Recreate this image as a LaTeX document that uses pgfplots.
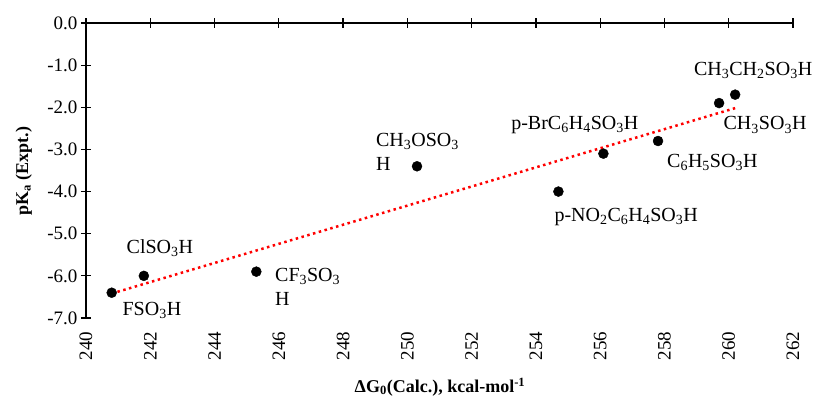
\documentclass[border=0pt]{standalone}
\usepackage{fontspec}
\setmainfont{Liberation Serif}
\usepackage{pgfplots}
\pgfplotsset{compat=1.18}
\newcommand{\s}[1]{\textsubscript{#1}}
\tikzset{lbl/.style={font=\fontsize{20}{24}\selectfont, inner sep=0pt}}
\begin{document}
\begin{tikzpicture}
\begin{axis}[
  scale only axis, width=707pt, height=295pt,
  xmin=240, xmax=262, ymin=-7, ymax=0,
  clip=false,
  xtick={240,242,...,262}, ytick={-7,-6,...,0},
  xticklabels={240,242,244,246,248,250,252,254,256,258,260,262},
  yticklabels={-7.0,-6.0,-5.0,-4.0,-3.0,-2.0,-1.0,0.0},
  xtick pos=right, xticklabel pos=left, ytick pos=left,
  tick align=center, major tick length=10pt,
  tick style={black, line width=1.2pt},
  axis line style={draw=none},
  xticklabel shift=5pt,
  x tick label style={rotate=90, anchor=east, font=\fontsize{19}{19}\selectfont},
  y tick label style={font=\fontsize{19}{19}\selectfont},
  xlabel={\textbf{ΔG\s{0}(Calc.), kcal-mol\textsuperscript{-1}}},
  ylabel={\textbf{pK\s{a} (Expt.)}},
  every axis x label/.style={at={(axis description cs:0.5007,-0.2339)}, anchor=center, font=\fontsize{18}{18}\selectfont},
  every axis y label/.style={at={(axis description cs:-0.0880,0.498)}, anchor=center, rotate=90, font=\fontsize{18}{18}\selectfont},
]
\coordinate (O) at (rel axis cs:0,0);
\addplot[only marks, mark=*, mark size=5pt, black] coordinates {
  (240.8,-6.4) (241.8,-6.0) (245.3,-5.9) (250.3,-3.4) (254.7,-4.0)
  (256.1,-3.1) (257.8,-2.8) (259.7,-1.9) (260.2,-1.7)
};
\addplot[red, line width=2.5pt, dash pattern=on 2.5pt off 3.5pt] coordinates {
  (240.8,-6.42) (260.2,-2.02)
};
\draw[black, line width=2pt] (rel axis cs:0,0) -- (rel axis cs:0,1) -- (rel axis cs:1,1);
\node[lbl] at (axis cs:242.30,-5.34) {ClSO\s{3}H};
\node[lbl] at (axis cs:242.05,-6.82) {FSO\s{3}H};
\node[lbl, align=left, anchor=west] at (axis cs:245.88,-6.27) {CF\s{3}SO\s{3}\\H};
\node[lbl, align=left, anchor=west] at (axis cs:249.02,-3.05) {CH\s{3}OSO\s{3}\\H};
\node[lbl] at (axis cs:255.21,-2.42) {p-BrC\s{6}H\s{4}SO\s{3}H};
\node[lbl] at (axis cs:259.49,-3.30) {C\s{6}H\s{5}SO\s{3}H};
\node[lbl] at (axis cs:261.13,-2.42) {CH\s{3}SO\s{3}H};
\node[lbl] at (axis cs:260.76,-1.12) {CH\s{3}CH\s{2}SO\s{3}H};
\node[lbl] at (axis cs:256.81,-4.61) {p-NO\s{2}C\s{6}H\s{4}SO\s{3}H};
\end{axis}
\pgfresetboundingbox
\path (O) ++(-86pt,-80pt) rectangle ++(813pt,398pt);
\end{tikzpicture}
\end{document}
